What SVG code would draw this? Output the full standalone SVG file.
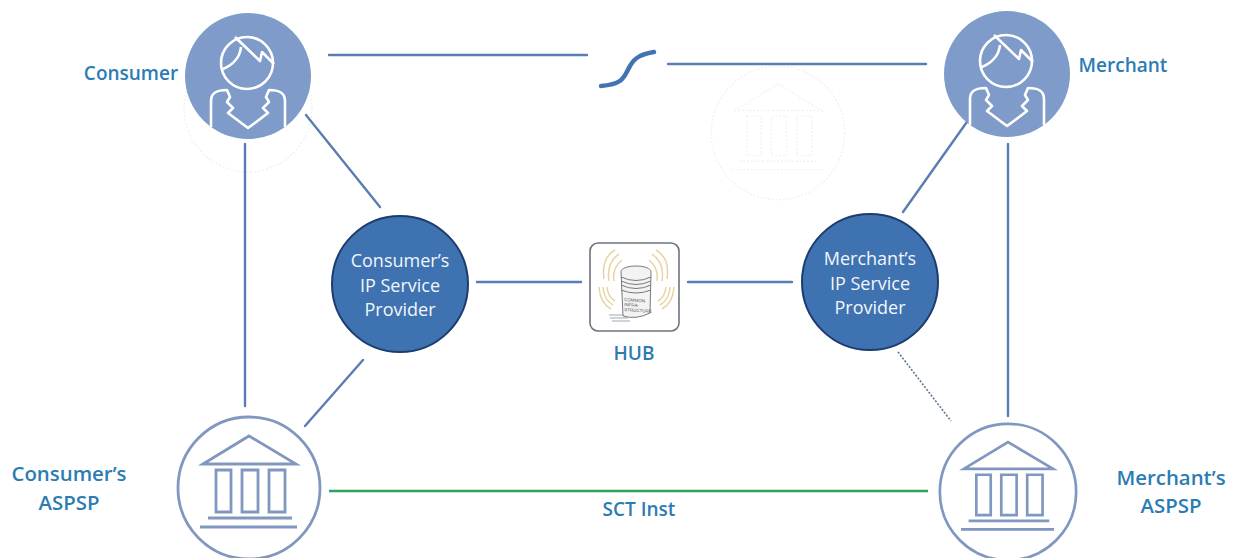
<svg xmlns="http://www.w3.org/2000/svg" width="1233" height="558" viewBox="0 0 1233 558">
<style>
.lbl{font:600 19px "Open Sans",sans-serif;fill:#2b7cb3;text-anchor:middle}
.lg{font-size:20.4px}
.ip{font:400 18px "Open Sans",sans-serif;fill:#f2f6fb;text-anchor:middle}
.c{fill:none;stroke:#5a7db3;stroke-width:2.4;stroke-linecap:round}
.disc{fill:#3f72b0;stroke:#1d3c6e;stroke-width:2}
.bank{fill:none;stroke:#8097c0;stroke-width:2.8}
.ghost{fill:none;stroke:#f1f1f1;stroke-width:1.5;stroke-dasharray:2 2}
.p{fill:#7f9bc9}
.pl{fill:none;stroke:#fff;stroke-width:2.6;stroke-linejoin:round}
.wave{fill:none;stroke:#e8d3a3;stroke-width:1.5}
</style>
<defs>
<g id="person">
<circle class="p" r="63"/>
<circle class="pl" cx="-1" cy="-13" r="26"/>
<path class="pl" d="M-13,-39 L12,-15 L14,-24 L26,-12 M-25,-7 C-15,-11 -8,-19 -7,-29"/>
<path class="pl" d="M-37,51 V25 C-37,16 -30,14 -21,14 L-18,21 L-21,26 L-15,32 L-20,37 L0,52 L20,37 L15,32 L21,26 L18,21 L21,14 C30,14 37,16 37,25 V51"/>
</g>
<g id="bank">
<circle r="71"/>
<path d="M-46,-24 L0,-52 L47,-24 Z"/>
<path d="M-33,-18 H-18 V24 H-33 Z M-7,-18 H9 V24 H-7 Z M20,-18 H36 V24 H20 Z"/>
<path d="M-41,30 H43 M-49,39 H48"/>
</g>
</defs>
<g id="faint-marks">
<circle class="ghost" cx="248" cy="108" r="64"/>
<use href="#bank" class="ghost" transform="translate(778,133) scale(.94)"/>
</g>
<g id="connectors">
<path class="c" d="M329,55 H587"/>
<path class="c" d="M668,64 H926"/>
<path d="M601,86 C625,84 624,76 630,66 C635,57 642,54 654,52" fill="none" stroke="#4473b3" stroke-width="4.5" stroke-linecap="round"/>
<path class="c" d="M245,144 V406"/>
<path class="c" d="M306,115 L380,207"/>
<path class="c" d="M363,360 L305,426"/>
<path class="c" d="M477,282 H581"/>
<path class="c" d="M688,282 H792"/>
<path class="c" d="M969,119 L903,212"/>
<path class="c" d="M1008,144 V416"/>
<path d="M898,352 L951,421" fill="none" stroke="#5f7696" stroke-width="1.6" stroke-dasharray="2 1.6"/>
<path d="M329,491 H928" fill="none" stroke="#2ca25f" stroke-width="2.4"/>
</g>
<g id="consumer"><use href="#person" transform="translate(248,76)"/><text class="lbl" x="131" y="80">Consumer</text></g>
<g id="merchant"><use href="#person" transform="translate(1007,74)"/><text class="lbl" x="1123" y="72">Merchant</text></g>
<g id="consumer-ip"><circle class="disc" cx="400" cy="284" r="68"/>
<text class="ip" x="400" y="267">Consumer’s</text><text class="ip" x="400" y="292">IP Service</text><text class="ip" x="400" y="316">Provider</text></g>
<g id="merchant-ip"><circle class="disc" cx="870" cy="282" r="68"/>
<text class="ip" x="870" y="265">Merchant’s</text><text class="ip" x="870" y="290">IP Service</text><text class="ip" x="870" y="314">Provider</text></g>
<g id="hub">
<rect x="590" y="243" width="89" height="88" rx="8" fill="#fff" stroke="#6d7480" stroke-width="1.6"/>
<path class="wave" d="M609,281 Q606,263 619,254 M604,279 Q601,258 615,250 M614,281 Q612,268 622,260 M662,281 Q665,263 652,254 M667,279 Q670,258 656,250 M657,281 Q659,268 649,260"/>
<path class="wave" d="M599,287 Q600,303 611,309 M603,287 Q604,300 613,305 M607,287 Q608,297 615,301 M674,287 Q673,303 662,309 M670,287 Q669,300 660,305 M666,287 Q665,297 658,301"/>
<path d="M610,318 H628 M612,321 H630 M609,315 H626" stroke="#a4a7b5" stroke-width="1.2"/>
<path d="M621,272 C621,264 651,264 651,272 L650,313 Q636,320 623,316 Z" fill="#f3f3f2" stroke="#77797f" stroke-width="1"/>
<path d="M621,277 Q636,284 651,277 M621,281 Q636,288 651,281 M621,285 Q636,292 651,285 M621,290 Q636,296 651,290" fill="none" stroke="#77797f" stroke-width="1"/>
<text x="624" y="301" font-family="Liberation Sans,sans-serif" font-size="4.5" fill="#555" transform="rotate(4 624 301)">COMMON</text>
<text x="624" y="306" font-family="Liberation Sans,sans-serif" font-size="4.5" fill="#555" transform="rotate(4 624 306)">INFRA-</text>
<text x="624" y="311" font-family="Liberation Sans,sans-serif" font-size="4.5" fill="#555" transform="rotate(4 624 311)">STRUCTURE</text>
<text class="lbl" x="634" y="360">HUB</text>
</g>
<g id="consumer-aspsp"><use href="#bank" class="bank" transform="translate(249,488)"/>
<text class="lbl lg" x="69" y="481">Consumer’s</text><text class="lbl lg" x="69" y="510">ASPSP</text></g>
<g id="merchant-aspsp"><use href="#bank" class="bank" transform="translate(1008,492) scale(.96)"/>
<text class="lbl lg" x="1171" y="485">Merchant’s</text><text class="lbl lg" x="1171" y="513">ASPSP</text></g>
<g id="sct-label"><text class="lbl" x="639" y="516">SCT Inst</text></g>
</svg>
